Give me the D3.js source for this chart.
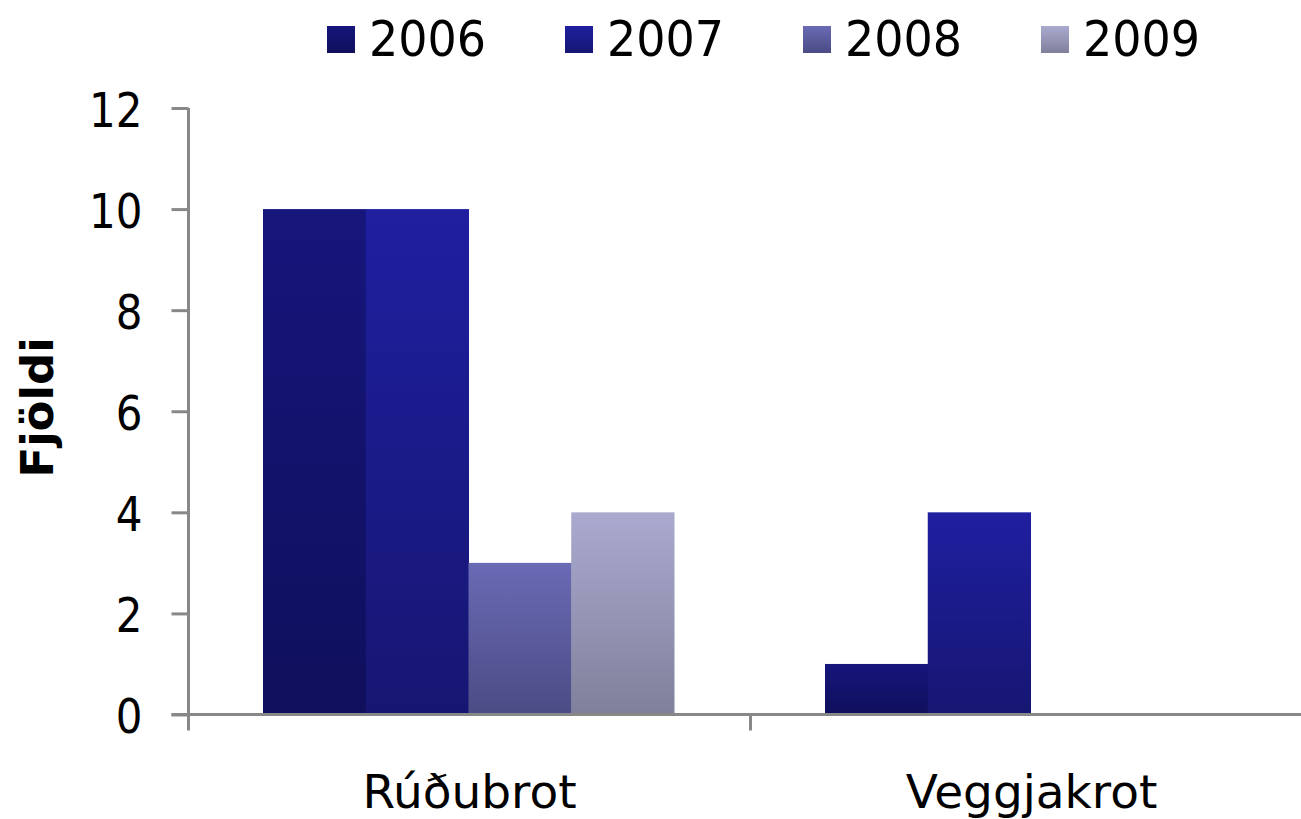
<!DOCTYPE html>
<html>
<head>
<meta charset="utf-8">
<script src="https://cdn.jsdelivr.net/npm/d3@7/dist/d3.min.js"></script>
<style>
  body { margin: 0; background: #fff; }
  text { font-family: "DejaVu Sans", Verdana, sans-serif; fill: #000; }
</style>
</head>
<body>
<svg id="chart" width="1301" height="819"></svg>
<script>
var categories = ["Rúðubrot", "Veggjakrot"];
var years = ["2006", "2007", "2008", "2009"];
var values2006 = [10, 1];
var values2007 = [10, 4];
var values2008 = [3, 0];
var values2009 = [4, 0];
var yTicks = [0, 2, 4, 6, 8, 10, 12];
var yTitle = "Fjöldi";

var series = [values2006, values2007, values2008, values2009];
var topColors = ["#16167c", "#1f1fa0", "#6a6ab5", "#aaaad0"];
var bottomColors = ["#0f0f5c", "#161672", "#4b4b85", "#80809b"];

var svg = d3.select("#chart");
var width = 1301, height = 819;
var plotLeft = 188.5, baseline = 714.5, plotTop = 108;

var x = d3.scaleBand().domain(categories).range([plotLeft, 1312.5]);
var xInner = d3.scaleBand().domain(years).range([74.5, x.bandwidth() - 76.5]);
var y = d3.scaleLinear().domain([0, 12]).range([baseline, plotTop]);

// gradients, one per year
var defs = svg.append("defs");
years.forEach(function(yr, i) {
    var g = defs.append("linearGradient")
        .attr("id", "grad" + yr)
        .attr("x1", 0).attr("y1", 0).attr("x2", 0).attr("y2", 1);
    g.append("stop").attr("offset", "0%").attr("stop-color", topColors[i]);
    g.append("stop").attr("offset", "100%").attr("stop-color", bottomColors[i]);
});

// bars
years.forEach(function(yr, i) {
    svg.append("g").selectAll("rect")
        .data(series[i].map(function(v, j) { return { cat: categories[j], v: v }; })
            .filter(function(d) { return d.v > 0; }))
        .enter().append("rect")
        .attr("x", function(d) { return x(d.cat) + xInner(yr); })
        .attr("width", xInner.bandwidth() + 0.5)
        .attr("y", function(d) { return y(d.v); })
        .attr("height", function(d) { return baseline - y(d.v); })
        .attr("fill", "url(#grad" + yr + ")");
});

// y axis
var yAxis = svg.append("g")
    .attr("transform", "translate(" + plotLeft + ",0)")
    .call(d3.axisLeft(y).tickValues(yTicks).tickSize(17).tickPadding(0).tickFormat(d3.format("d")));
yAxis.select(".domain").attr("stroke", "#888").attr("stroke-width", 3)
    .attr("d", "M0," + plotTop + "V" + baseline);
yAxis.selectAll(".tick line").attr("stroke", "#888").attr("stroke-width", 3);
yAxis.selectAll(".tick text")
    .attr("x", 0).attr("dy", 0)
    .attr("transform", "translate(-46,18) scale(1,1.15)")
    .style("font-size", "42px")
    .style("font-family", "DejaVu Sans, Verdana, sans-serif")
    .attr("fill", "#000");

// x axis
var xAxis = svg.append("g")
    .attr("transform", "translate(0," + baseline + ")")
    .call(d3.axisBottom(x).tickSize(0).tickFormat(""));
xAxis.select(".domain").attr("stroke", "#888").attr("stroke-width", 3)
    .attr("d", "M" + (plotLeft - 17) + ",0H" + width);
var boundaries = categories.map(function(c) { return x(c); }).concat([x.range()[1]]);
svg.append("g").selectAll("line")
    .data(boundaries)
    .enter().append("line")
    .attr("x1", function(d) { return d; }).attr("x2", function(d) { return d; })
    .attr("y1", baseline).attr("y2", baseline + 16)
    .attr("stroke", "#888").attr("stroke-width", 3);

svg.append("g").selectAll("text")
    .data(categories)
    .enter().append("text")
    .attr("x", function(d) { return x(d) + x.bandwidth() / 2; })
    .attr("y", 808)
    .attr("text-anchor", "middle")
    .style("font-size", "47px")
    .text(function(d) { return d; });

// y title
svg.append("text")
    .attr("transform", "translate(53,407.5) rotate(-90)")
    .attr("text-anchor", "middle")
    .style("font-size", "45px")
    .style("font-weight", "bold")
    .text(yTitle);

// legend
var legend = svg.append("g").selectAll("g")
    .data(years)
    .enter().append("g")
    .attr("transform", function(d, i) { return "translate(" + (327 + i * 238) + ",0)"; });
legend.append("rect")
    .attr("x", 0).attr("y", 26).attr("width", 28).attr("height", 27)
    .attr("fill", function(d) { return "url(#grad" + d + ")"; });
legend.append("text")
    .attr("transform", "translate(42,56) scale(1,1.1)")
    .style("font-size", "46px")
    .text(function(d) { return d; });
</script>
</body>
</html>
